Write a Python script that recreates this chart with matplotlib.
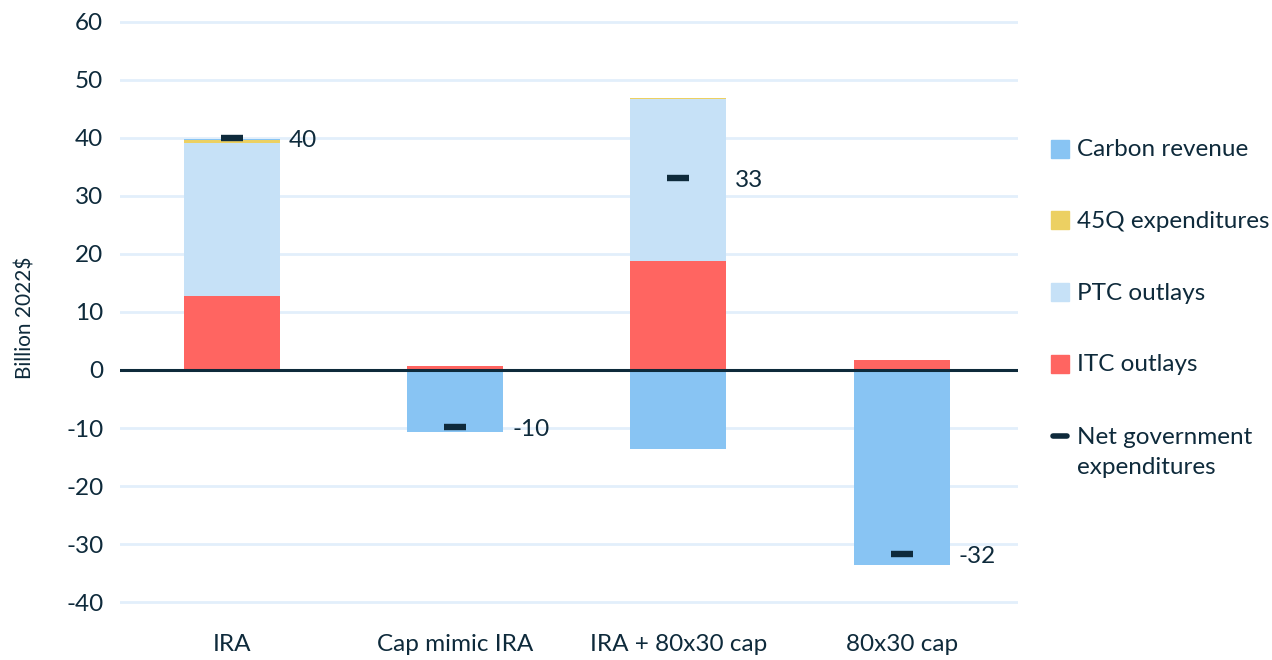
import matplotlib
matplotlib.use("Agg")
import matplotlib.pyplot as plt
import numpy as np
from matplotlib.patches import Rectangle
from matplotlib.lines import Line2D

plt.rcParams['font.family'] = ['Lato', 'DejaVu Sans']
plt.rcParams['axes.unicode_minus'] = False

scenarios = ["IRA", "Cap mimic IRA", "IRA + 80x30 cap", "80x30 cap"]
itc_outlays = [12.8, 0.7, 18.8, 1.7]
ptc_outlays = [26.3, 0.0, 27.9, 0.0]
q45_expenditures = [0.5, 0.0, 0.15, 0.0]
carbon_revenue = [0.3, -10.7, -13.6, -33.6]
net_expenditures = [40, -9.8, 33.1, -31.7]
net_labels = ["40", "-10", "33", "-32"]

INK = "#0e2a3b"
C_CARBON = "#88c4f3"
C_45Q = "#ecd062"
C_PTC = "#c6e1f7"
C_ITC = "#ff6561"
C_GRID = "#e2effb"
FS = 17.5

fig = plt.figure(figsize=(12.72, 6.6), dpi=100)
ax = fig.add_axes([0.0943, 0.0527, 0.706, 0.9316])

x = np.arange(len(scenarios))
w = 0.43

itc = np.array(itc_outlays)
ptc = np.array(ptc_outlays)
q45 = np.array(q45_expenditures)
carb = np.array(carbon_revenue)

pos_carb = np.where(carb > 0, carb, 0)
neg_carb = np.where(carb < 0, carb, 0)

ax.bar(x, itc, w, color=C_ITC, zorder=2)
ax.bar(x, ptc, w, bottom=itc, color=C_PTC, zorder=2)
ax.bar(x, q45, w, bottom=itc + ptc, color=C_45Q, zorder=2)
ax.bar(x, pos_carb, w, bottom=itc + ptc + q45, color=C_CARBON, zorder=2)
ax.bar(x, neg_carb, w, color=C_CARBON, zorder=2)

ax.plot(x, net_expenditures, linestyle="none", marker="_", markersize=16,
        markeredgewidth=4.6, color=INK, zorder=4)

for xi, v, lab in zip(x, net_expenditures, net_labels):
    ax.text(xi + 0.255, v - 0.4, lab, ha="left", va="center", fontsize=FS, color=INK, zorder=5)

ax.set_xlim(-0.5, 3.52)
ax.set_ylim(-44, 62)
ax.set_yticks(np.arange(-40, 61, 10))
ax.set_xticks(x)
ax.set_xticklabels(scenarios)
ax.yaxis.grid(True, color=C_GRID, linewidth=2, zorder=0)
ax.set_axisbelow(True)
ax.axhline(0, color=INK, linewidth=2.2, zorder=3)

for s in ax.spines.values():
    s.set_visible(False)
ax.tick_params(axis="both", length=0, labelsize=FS, labelcolor=INK)
ax.tick_params(axis="y", pad=12)
ax.tick_params(axis="x", pad=6)
ax.set_ylabel("Billion 2022$", fontsize=15, color=INK, labelpad=22)

# legend
W, H = 1272, 660
def fx(px):
    return px / W
def fy(py):
    return 1 - py / H

entries = [("Carbon revenue", C_CARBON, 148.5),
           ("45Q expenditures", C_45Q, 220),
           ("PTC outlays", C_PTC, 292),
           ("ITC outlays", C_ITC, 364)]
for label, col, yc in entries:
    fig.add_artist(Rectangle((fx(1051), fy(yc + 9)), 18 / W, 18 / H,
                             transform=fig.transFigure, color=col))
    fig.text(fx(1077), fy(yc + 1), label, ha="left", va="center",
             fontsize=FS, color=INK)
fig.add_artist(Line2D([fx(1053), fx(1067)], [fy(436), fy(436)],
                      transform=fig.transFigure, color=INK, linewidth=4,
                      solid_capstyle="round"))
fig.text(fx(1077), fy(438), "Net government", ha="left", va="center",
         fontsize=FS, color=INK)
fig.text(fx(1077), fy(468), "expenditures", ha="left", va="center",
         fontsize=FS, color=INK)

fig.savefig("out.png", dpi=100)
